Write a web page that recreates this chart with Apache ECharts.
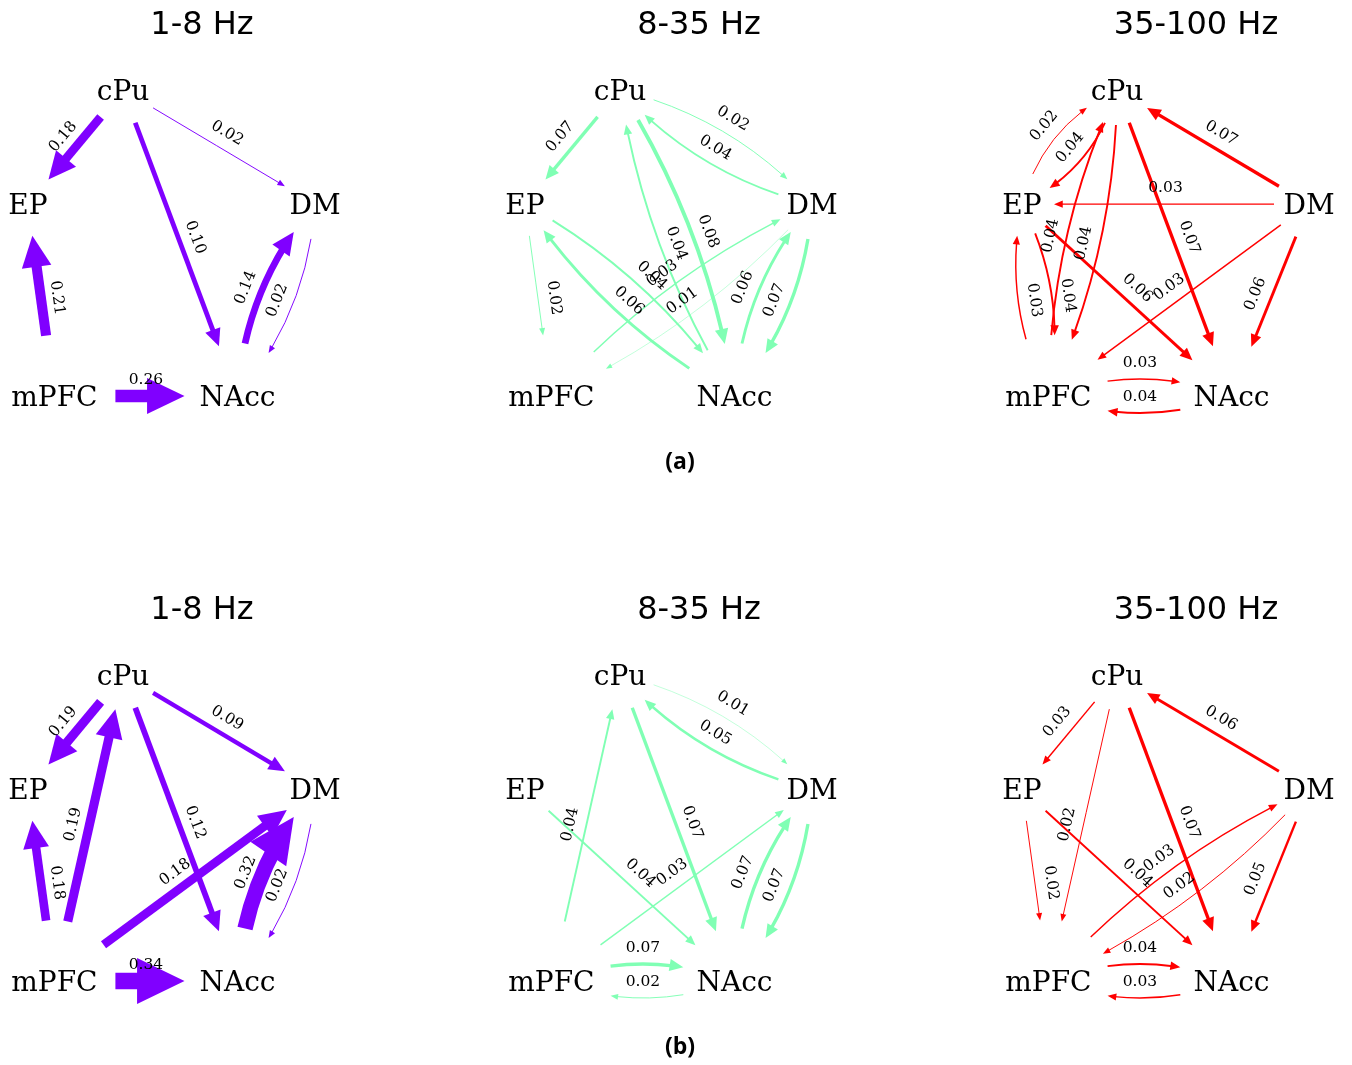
<!DOCTYPE html>
<html>
<head>
<meta charset="utf-8">
<title>Directed connectivity between regions</title>
<script src="https://cdn.jsdelivr.net/npm/echarts@6/dist/echarts.min.js"></script>
<style>
  html, body { margin: 0; padding: 0; background: #ffffff; }
  #chart { width: 1352px; height: 1065px; }
</style>
</head>
<body>
<div id="chart"></div>
<script>
// Regions, frequency bands and conditions
const regions = ['cPu', 'EP', 'DM', 'mPFC', 'NAcc'];
const bands = ['1-8 Hz', '8-35 Hz', '35-100 Hz'];
const conditions = ['(a)', '(b)'];

// Directed connection strengths: [source, target, strength]
const condA_1_8 = [
  ['cPu', 'EP', 0.18], ['cPu', 'DM', 0.02], ['cPu', 'NAcc', 0.10],
  ['mPFC', 'EP', 0.21], ['NAcc', 'DM', 0.14], ['DM', 'NAcc', 0.02],
  ['mPFC', 'NAcc', 0.26]
];
const condA_8_35 = [
  ['cPu', 'EP', 0.07], ['cPu', 'DM', 0.02], ['DM', 'cPu', 0.04],
  ['cPu', 'NAcc', 0.08], ['NAcc', 'cPu', 0.04], ['EP', 'NAcc', 0.04],
  ['NAcc', 'EP', 0.06], ['EP', 'mPFC', 0.02], ['mPFC', 'DM', 0.03],
  ['DM', 'mPFC', 0.01], ['NAcc', 'DM', 0.06], ['DM', 'NAcc', 0.07]
];
const condA_35_100 = [
  ['EP', 'cPu', 0.02], ['cPu', 'EP', 0.04], ['DM', 'cPu', 0.07],
  ['DM', 'EP', 0.03], ['mPFC', 'cPu', 0.04], ['cPu', 'mPFC', 0.04],
  ['cPu', 'NAcc', 0.07], ['EP', 'mPFC', 0.04], ['mPFC', 'EP', 0.03],
  ['EP', 'NAcc', 0.06], ['DM', 'mPFC', 0.03], ['DM', 'NAcc', 0.06],
  ['mPFC', 'NAcc', 0.03], ['NAcc', 'mPFC', 0.04]
];
const condB_1_8 = [
  ['cPu', 'EP', 0.19], ['cPu', 'DM', 0.09], ['cPu', 'NAcc', 0.12],
  ['mPFC', 'EP', 0.18], ['mPFC', 'cPu', 0.19], ['mPFC', 'DM', 0.18],
  ['NAcc', 'DM', 0.32], ['DM', 'NAcc', 0.02], ['mPFC', 'NAcc', 0.34]
];
const condB_8_35 = [
  ['cPu', 'DM', 0.01], ['DM', 'cPu', 0.05], ['cPu', 'NAcc', 0.07],
  ['mPFC', 'cPu', 0.04], ['EP', 'NAcc', 0.04], ['mPFC', 'DM', 0.03],
  ['NAcc', 'DM', 0.07], ['DM', 'NAcc', 0.07], ['mPFC', 'NAcc', 0.07],
  ['NAcc', 'mPFC', 0.02]
];
const condB_35_100 = [
  ['cPu', 'EP', 0.03], ['DM', 'cPu', 0.06], ['cPu', 'mPFC', 0.02],
  ['cPu', 'NAcc', 0.07], ['EP', 'mPFC', 0.02], ['EP', 'NAcc', 0.04],
  ['mPFC', 'DM', 0.03], ['DM', 'mPFC', 0.02], ['DM', 'NAcc', 0.05],
  ['mPFC', 'NAcc', 0.04], ['NAcc', 'mPFC', 0.03]
];

// ---- layout and styling ----
// node placement in axis units (x: 0..1, y: 0..1)
const nodeLayout = {
  cPu:  [0.331, 1.0],
  EP:   [0.0,   0.627],
  DM:   [1.0,   0.627],
  mPFC: [0.092, 0.0],
  NAcc: [0.730, 0.0]
};
// clearance (px) kept between a node centre and its edges
const nodeMargin = { cPu: 35, EP: 32, DM: 35, mPFC: 61, NAcc: 53 };
const bandColors = ['#8000ff', '#80ffb4', '#ff0000'];
const WIDTH_PER_UNIT = 48;   // px of stroke per unit of strength
const CURVE_SAG = 17;        // px bulge of reciprocal edges
const LABEL_LIFT = 16;       // px offset of a strength label from its edge
const NODE_TEXT_DROP = 3;    // px nudge so the region names sit on their node centres
const panelLeft0 = 28, panelTop0 = 90, panelW = 287, panelH = 306;
const colStep = 497, rowStep = 585;

const panels = [
  [condA_1_8, condA_8_35, condA_35_100],
  [condB_1_8, condB_8_35, condB_35_100]
];

function qpt(p0, c, p2, t) {
  const m = 1 - t;
  return [m * m * p0[0] + 2 * m * t * c[0] + t * t * p2[0],
          m * m * p0[1] + 2 * m * t * c[1] + t * t * p2[1]];
}
function dist(a, b) { return Math.hypot(a[0] - b[0], a[1] - b[1]); }
// parameter t in [lo, hi] where the curve is at distance d from anchor
function tAtDistance(p0, c, p2, anchor, d, lo, hi) {
  const increasing = dist(qpt(p0, c, p2, hi), anchor) > dist(qpt(p0, c, p2, lo), anchor);
  for (let i = 0; i < 50; i++) {
    const mid = (lo + hi) / 2;
    const dm = dist(qpt(p0, c, p2, mid), anchor);
    if ((dm < d) === increasing) lo = mid; else hi = mid;
  }
  return (lo + hi) / 2;
}
function subCurve(p0, c, p2, t0, t1) {
  const a = qpt(p0, c, p2, t0), b = qpt(p0, c, p2, t1);
  const k0 = (1 - t0) * (1 - t1), k1 = (1 - t0) * t1 + t0 * (1 - t1), k2 = t0 * t1;
  return {
    x1: a[0], y1: a[1], x2: b[0], y2: b[1],
    cpx1: k0 * p0[0] + k1 * c[0] + k2 * p2[0],
    cpy1: k0 * p0[1] + k1 * c[1] + k2 * p2[1]
  };
}

function edgeRenderer(edges, color) {
  const present = new Set(edges.map(e => e[0] + '>' + e[1]));
  return function (params, api) {
    const src = regions[api.value(0)];
    const dst = regions[api.value(1)];
    const w = api.value(2);
    const p0 = api.coord(nodeLayout[src]);
    const p2 = api.coord(nodeLayout[dst]);
    const dx = p2[0] - p0[0], dy = p2[1] - p0[1];
    const len = Math.hypot(dx, dy);
    const nx = dy / len, ny = -dx / len;
    const sag = present.has(dst + '>' + src) ? CURVE_SAG : 0;
    const mid = [(p0[0] + p2[0]) / 2, (p0[1] + p2[1]) / 2];
    const c = [mid[0] + nx * 2 * sag, mid[1] + ny * 2 * sag];

    const lw = w * WIDTH_PER_UNIT;
    const headL = 5 + 2.6 * lw;
    const headW = 3.5 + 2.6 * lw;

    const tA = tAtDistance(p0, c, p2, p0, nodeMargin[src], 0, 1);
    const tB = tAtDistance(p0, c, p2, p2, nodeMargin[dst], 0, 1);
    const tip = qpt(p0, c, p2, tB);
    const tS = tAtDistance(p0, c, p2, tip, headL * 0.75, tA, tB);

    // direction of travel at the tip
    const m = 1 - tB;
    let ux = 2 * m * (c[0] - p0[0]) + 2 * tB * (p2[0] - c[0]);
    let uy = 2 * m * (c[1] - p0[1]) + 2 * tB * (p2[1] - c[1]);
    const ul = Math.hypot(ux, uy); ux /= ul; uy /= ul;
    const base = [tip[0] - ux * headL, tip[1] - uy * headL];
    const px = -uy * headW / 2, py = ux * headW / 2;

    // label: readable orientation, lifted to the upper side of the text
    let rx = dx / len, ry = dy / len;
    if (rx < 0) { rx = -rx; ry = -ry; }
    const curveMid = [mid[0] + nx * sag, mid[1] + ny * sag];
    const lp = [curveMid[0] + ry * LABEL_LIFT, curveMid[1] - rx * LABEL_LIFT];

    return {
      type: 'group',
      children: [
        {
          type: 'bezierCurve',
          shape: subCurve(p0, c, p2, tA, tS),
          style: { stroke: color, lineWidth: lw, fill: 'none', lineCap: 'butt' }
        },
        {
          type: 'polygon',
          shape: { points: [tip, [base[0] + px, base[1] + py], [base[0] - px, base[1] - py]] },
          style: { fill: color, stroke: 'none' }
        },
        {
          type: 'text',
          x: lp[0], y: lp[1],
          rotation: Math.atan2(-ry, rx),
          z2: 20,
          style: {
            text: w.toFixed(2),
            fill: '#000000',
            fontSize: 15.5,
            fontFamily: '"DejaVu Serif", serif',
            align: 'center',
            verticalAlign: 'middle'
          }
        }
      ]
    };
  };
}

function nodeRenderer(params, api) {
  const p = api.coord([api.value(0), api.value(1)]);
  return {
    type: 'text',
    x: p[0], y: p[1] + NODE_TEXT_DROP,
    z2: 10,
    style: {
      text: regions[params.dataIndex],
      fill: '#000000',
      fontSize: 28,
      fontFamily: '"DejaVu Serif", serif',
      align: 'center',
      verticalAlign: 'middle'
    }
  };
}

const grid = [], xAxis = [], yAxis = [], series = [], graphic = [];
panels.forEach(function (row, r) {
  row.forEach(function (edges, col) {
    const idx = grid.length;
    grid.push({
      left: panelLeft0 + col * colStep,
      top: panelTop0 + r * rowStep,
      width: panelW,
      height: panelH
    });
    xAxis.push({ gridIndex: idx, type: 'value', min: 0, max: 1, show: false });
    yAxis.push({ gridIndex: idx, type: 'value', min: 0, max: 1, show: false });
    series.push({
      type: 'custom',
      name: conditions[r] + ' ' + bands[col],
      coordinateSystem: 'cartesian2d',
      xAxisIndex: idx,
      yAxisIndex: idx,
      silent: true,
      data: edges.map(e => [regions.indexOf(e[0]), regions.indexOf(e[1]), e[2]]),
      renderItem: edgeRenderer(edges, bandColors[col])
    });
    series.push({
      type: 'custom',
      coordinateSystem: 'cartesian2d',
      xAxisIndex: idx,
      yAxisIndex: idx,
      silent: true,
      data: regions.map(n => nodeLayout[n]),
      renderItem: nodeRenderer
    });
    graphic.push({
      type: 'text',
      x: panelLeft0 + 174 + col * colStep,
      y: 26 + r * rowStep,
      style: {
        text: bands[col],
        fill: '#000000',
        fontSize: 32,
        fontFamily: '"DejaVu Sans", sans-serif',
        align: 'center',
        verticalAlign: 'middle'
      }
    });
  });
  graphic.push({
    type: 'text',
    x: 680,
    y: 462 + r * rowStep,
    style: {
      text: conditions[r],
      fill: '#000000',
      fontSize: 23,
      fontWeight: 'bold',
      fontFamily: '"Open Sans", sans-serif',
      align: 'center',
      verticalAlign: 'middle'
    }
  });
});

const chart = echarts.init(document.getElementById('chart'), null, { renderer: 'canvas' });
chart.setOption({
  animation: false,
  backgroundColor: '#ffffff',
  grid: grid,
  xAxis: xAxis,
  yAxis: yAxis,
  series: series,
  graphic: graphic
});
</script>
</body>
</html>
